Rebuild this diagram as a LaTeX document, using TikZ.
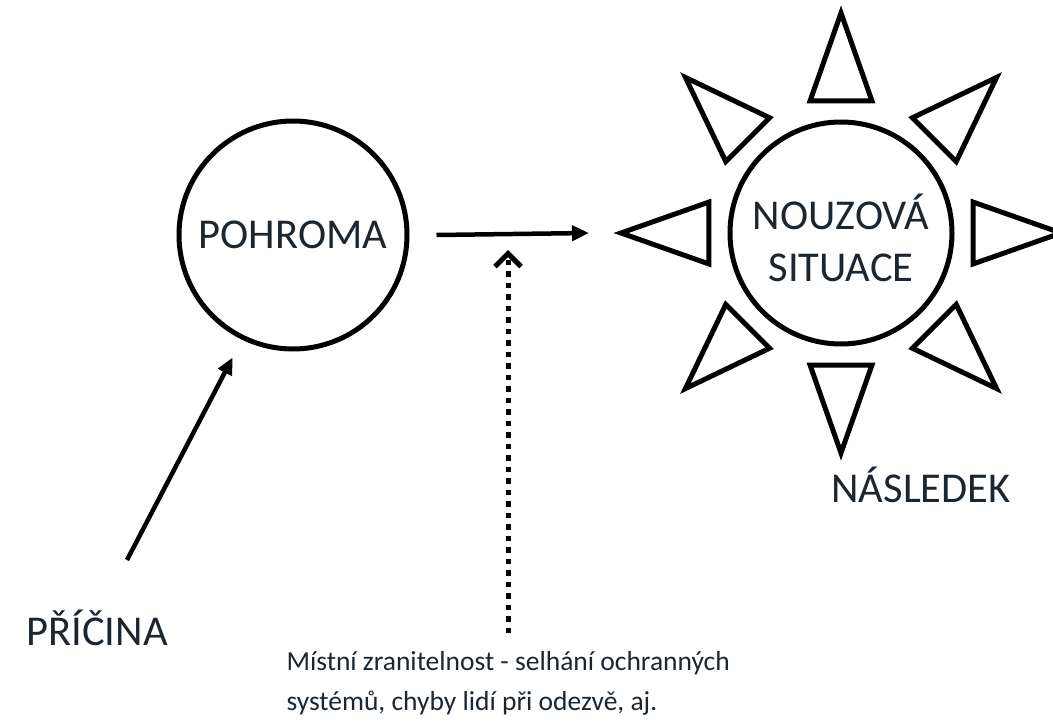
\documentclass[tikz,border=0pt]{standalone}
\usepackage{fontspec}
\setmainfont{Carlito}
\usepackage{tikz}
\usetikzlibrary{arrows.meta}
\definecolor{inkc}{RGB}{28,38,48}

\begin{document}
\begin{tikzpicture}[x=1pt,y=-1pt,
  label/.style={text=inkc,font=\fontsize{42.5}{52}\selectfont},
  ring/.style={draw=black,line width=5pt,circle,inner sep=0pt},
  arr/.style={draw=black,line width=4.5pt,-{Triangle[length=17pt,width=15pt]}},
  dotarr/.style={draw=black,line width=5pt,dash pattern=on 5.5pt off 6pt,
    -{Straight Barb[length=13pt,width=26pt,line width=5pt]}}]
\useasboundingbox (0,0) rectangle (1053,723);
% objects at depth 100:
\node[ring,minimum size=228pt,label] (pohroma) at (293,235) {POHROMA};
\node[ring,minimum size=222pt] (situace) at (841,233) {};
\node[label,align=center] (situacetext) at (841,238) {NOUZOVÁ\\SITUACE};
\begin{scope}[shift={(841,233)}]
\foreach \a in {0,45,...,315} {
  \path[draw=black,line width=5pt,line join=miter]
    (\a:220) -- (\a+13.2:135.6) -- (\a-13.2:135.6) -- cycle;
  \coordinate (ray\a) at (\a:220);
}
\end{scope}
\node[label] (nasledek) at (921,485) {NÁSLEDEK};
\node[label] (pricina) at (97,628) {PŘÍČINA};
\node[text=inkc,font=\fontsize{27.5}{40}\selectfont,align=left,anchor=north west]
  (zranitelnost) at (283,648) {Místní zranitelnost - selhání ochranných\\systémů, chyby lidí při odezvě, aj.};
% objects at depth 50:
\coordinate (pstart) at (127,560);
\coordinate (dbot) at (508,633);
\coordinate (dtop) at (508,250);
\draw[arr] ([xshift=27pt]pohroma.east) -- ([xshift=-32pt]ray180);
\draw[arr,shorten >=20pt] (pstart) -- (pohroma.244);
\draw[dotarr] (dbot) -- (dtop);
\end{tikzpicture}
\end{document}
